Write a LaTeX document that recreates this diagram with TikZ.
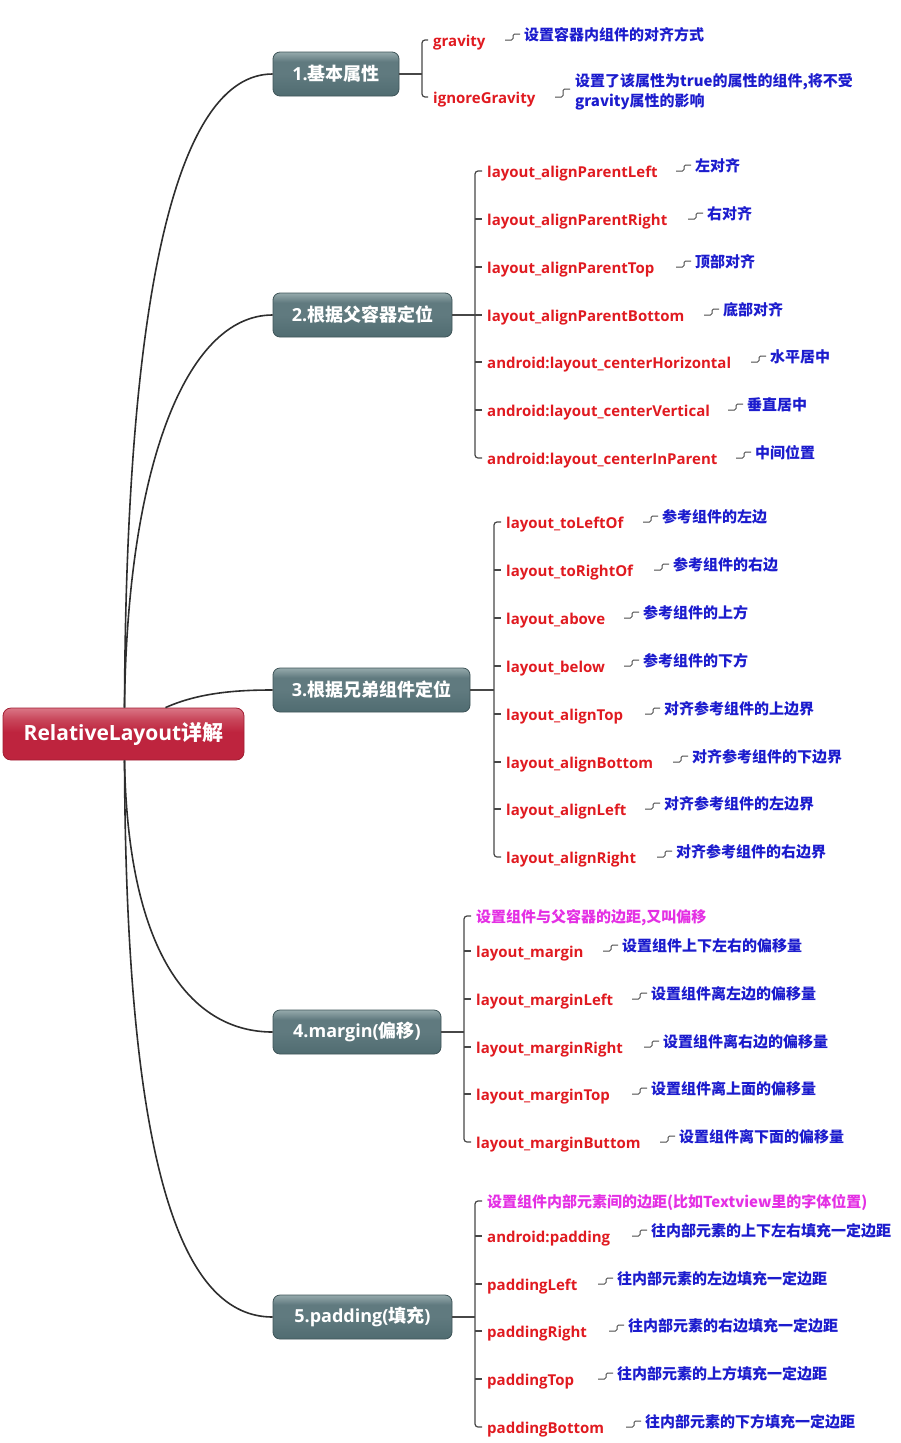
\documentclass[tikz,border=0pt]{standalone}
\usepackage{fontspec}
\setmainfont{Open Sans}
\newfontfamily\cjk{Noto Sans CJK SC}
\definecolor{labred}{RGB}{224,26,32}
\definecolor{descblue}{RGB}{28,28,205}
\definecolor{pinkc}{RGB}{228,48,228}
\definecolor{rootbot}{RGB}{190,36,62}
\definecolor{rootmid}{RGB}{200,70,90}
\definecolor{roottop}{RGB}{218,118,134}
\definecolor{rootborder}{RGB}{160,30,50}
\definecolor{brbot}{RGB}{80,108,113}
\definecolor{brmid}{RGB}{96,122,127}
\definecolor{brtop}{RGB}{150,170,172}
\definecolor{brborder}{RGB}{62,84,88}
\pgfdeclareverticalshading{rootshade}{100bp}{color(0bp)=(rootbot); color(25bp)=(rootbot); color(52bp)=(rootbot); color(64bp)=(rootmid); color(75bp)=(roottop); color(100bp)=(roottop)}
\pgfdeclareverticalshading{brshade}{100bp}{color(0bp)=(brbot); color(25bp)=(brbot); color(50bp)=(brmid); color(64bp)=(brmid); color(75bp)=(brtop); color(100bp)=(brtop)}
\newcommand\Attr[6]{%
  \node[lab] (#1) at (#2,#3) {#4};
  \node[desc] (#1d) at (#5,#3-5) {#6};
  \draw[conn] ([xshift=-19pt]#1d.west |- #1.east) -- ++(8pt,0pt) -- ++(0pt,6pt) -- ++(7pt,0pt);
}
\begin{document}
\begin{tikzpicture}[x=1pt,y=-1pt,
  curve/.style={draw=black!82, line width=1.6pt},
  br/.style={draw=black!72, line width=1.2pt},
  conn/.style={draw=black!70, line width=1pt, rounded corners=1.5pt},
  rootnode/.style={rounded corners=8pt, draw=rootborder, line width=0.8pt, shading=rootshade, minimum width=241pt, minimum height=52pt, inner sep=0pt, text=white, font=\bfseries\fontsize{21}{21}\selectfont},
  branch/.style={rounded corners=7pt, draw=brborder, line width=0.8pt, shading=brshade, minimum height=44pt, inner sep=0pt, text=white, font=\bfseries\fontsize{18}{18}\selectfont},
  lab/.style={anchor=west, inner sep=0pt, text height=13pt, text depth=0.5pt, text=labred, font=\bfseries\fontsize{15}{18}\selectfont},
  pinklab/.style={lab, text=pinkc, font=\cjk\bfseries\fontsize{15}{18}\selectfont},
  desc/.style={anchor=west, inner sep=0pt, text height=12pt, text depth=1pt, text=descblue, font=\cjk\bfseries\fontsize{15}{18}\selectfont},
]
\useasboundingbox (0,0) rectangle (901,1443);

% root and branches
\node[rootnode] (root) at (123.5,734) {RelativeLayout{\cjk 详解}};
\node[branch, minimum width=126pt] (b1) at (336,74) {1.{\cjk 基本属性}};
\node[branch, minimum width=179pt] (b2) at (362.5,315) {2.{\cjk 根据父容器定位}};
\node[branch, minimum width=197pt] (b3) at (371.5,690) {3.{\cjk 根据兄弟组件定位}};
\node[branch, minimum width=168pt] (b4) at (357,1032) {4.margin({\cjk 偏移})};
\node[branch, minimum width=179pt] (b5) at (362.5,1317) {5.padding({\cjk 填充})};

\draw[curve] ([xshift=1pt]root.north) .. controls (126,300) and (175,74) .. (b1.west);
\draw[curve] ([xshift=1pt]root.north) .. controls (127,470) and (185,315) .. (b2.west);
\draw[curve] ([xshift=42pt]root.north) .. controls (200,692) and (240,690) .. (b3.west);
\draw[curve] ([xshift=1pt]root.south) .. controls (128,960) and (195,1032) .. (b4.west);
\draw[curve] ([xshift=1pt]root.south) .. controls (126,1180) and (185,1317) .. (b5.west);

% ---- branch 1
\coordinate (k1) at (422,74);
\draw[br] (b1.east) -- (k1);
\Attr{g}{433}{40}{gravity}{524}{设置容器内组件的对齐方式}
\node[lab] (ig) at (433,97) {ignoreGravity};
\node[desc, align=left, text height=, text depth=] (igd) at (575,92) {设置了该属性为true的属性的组件,将不受\\[1.5pt]gravity属性的影响};
\draw[conn] ([xshift=-20pt]igd.west |- ig.east) -- ++(8pt,0pt) -- ++(0pt,8pt) -- ++(7pt,0pt);
\draw[br, rounded corners=3pt] ([xshift=-5pt]g.west) -| (k1) |- ([xshift=-5pt]ig.west);

% ---- branch 2
\coordinate (k2) at (475,315);
\draw[br] (b2.east) -- (k2);
\Attr{l2a}{487}{171}{layout\_alignParentLeft}{695}{左对齐}
\Attr{l2b}{487}{219}{layout\_alignParentRight}{707}{右对齐}
\Attr{l2c}{487}{267}{layout\_alignParentTop}{695}{顶部对齐}
\Attr{l2d}{487}{315}{layout\_alignParentBottom}{723}{底部对齐}
\Attr{l2e}{487}{362}{android:layout\_centerHorizontal}{770}{水平居中}
\Attr{l2f}{487}{410}{android:layout\_centerVertical}{747}{垂直居中}
\Attr{l2g}{487}{458}{android:layout\_centerInParent}{755}{中间位置}
\draw[br, rounded corners=3pt] ([xshift=-5pt]l2a.west) -| (k2) |- ([xshift=-5pt]l2g.west);
\foreach \n in {l2b,l2c,l2d,l2e,l2f} \draw[br] (k2 |- \n.west) -- ([xshift=-5pt]\n.west);

% ---- branch 3
\coordinate (k3) at (494,690);
\draw[br] (b3.east) -- (k3);
\Attr{l3a}{506}{522}{layout\_toLeftOf}{662}{参考组件的左边}
\Attr{l3b}{506}{570}{layout\_toRightOf}{673}{参考组件的右边}
\Attr{l3c}{506}{618}{layout\_above}{643}{参考组件的上方}
\Attr{l3d}{506}{666}{layout\_below}{643}{参考组件的下方}
\Attr{l3e}{506}{714}{layout\_alignTop}{664}{对齐参考组件的上边界}
\Attr{l3f}{506}{762}{layout\_alignBottom}{692}{对齐参考组件的下边界}
\Attr{l3g}{506}{809}{layout\_alignLeft}{664}{对齐参考组件的左边界}
\Attr{l3h}{506}{857}{layout\_alignRight}{676}{对齐参考组件的右边界}
\draw[br, rounded corners=3pt] ([xshift=-5pt]l3a.west) -| (k3) |- ([xshift=-5pt]l3h.west);
\foreach \n in {l3b,l3c,l3d,l3e,l3f,l3g} \draw[br] (k3 |- \n.west) -- ([xshift=-5pt]\n.west);

% ---- branch 4
\coordinate (k4) at (464,1032);
\draw[br] (b4.east) -- (k4);
\node[pinklab] (p4) at (476,916) {设置组件与父容器的边距,又叫偏移};
\Attr{l4a}{476}{951}{layout\_margin}{622}{设置组件上下左右的偏移量}
\Attr{l4b}{476}{999}{layout\_marginLeft}{651}{设置组件离左边的偏移量}
\Attr{l4c}{476}{1047}{layout\_marginRight}{663}{设置组件离右边的偏移量}
\Attr{l4d}{476}{1094}{layout\_marginTop}{651}{设置组件离上面的偏移量}
\Attr{l4e}{476}{1142}{layout\_marginButtom}{679}{设置组件离下面的偏移量}
\draw[br, rounded corners=3pt] ([xshift=-5pt]p4.west) -| (k4) |- ([xshift=-5pt]l4e.west);
\foreach \n in {l4a,l4b,l4c,l4d} \draw[br] (k4 |- \n.west) -- ([xshift=-5pt]\n.west);

% ---- branch 5
\coordinate (k5) at (475,1317);
\draw[br] (b5.east) -- (k5);
\node[pinklab] (p5) at (487,1201) {设置组件内部元素间的边距(比如Textview里的字体位置)};
\Attr{l5a}{487}{1236}{android:padding}{651}{往内部元素的上下左右填充一定边距}
\Attr{l5b}{487}{1284}{paddingLeft}{617}{往内部元素的左边填充一定边距}
\Attr{l5c}{487}{1331}{paddingRight}{628}{往内部元素的右边填充一定边距}
\Attr{l5d}{487}{1379}{paddingTop}{617}{往内部元素的上方填充一定边距}
\Attr{l5e}{487}{1427}{paddingBottom}{645}{往内部元素的下方填充一定边距}
\draw[br, rounded corners=3pt] ([xshift=-5pt]p5.west) -| (k5) |- ([xshift=-5pt]l5e.west);
\foreach \n in {l5a,l5b,l5c,l5d} \draw[br] (k5 |- \n.west) -- ([xshift=-5pt]\n.west);
\end{tikzpicture}
\end{document}
